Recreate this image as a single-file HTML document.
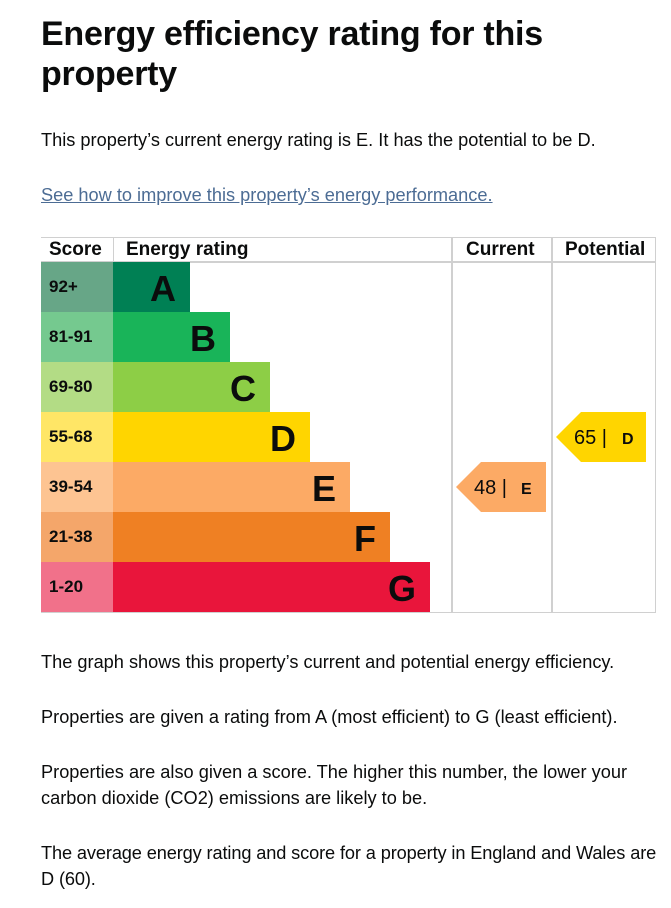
<!DOCTYPE html>
<html><head><style>
body{margin:0;width:671px;height:908px;background:#fff;font-family:"Liberation Sans",sans-serif;color:#0b0c0c;position:relative;overflow:hidden}
.a{position:absolute;white-space:nowrap}
h1{position:absolute;left:41px;top:14px;margin:0;font-size:34px;line-height:40px;font-weight:bold;letter-spacing:-0.25px;white-space:nowrap}
.p{position:absolute;left:41px;font-size:18.2px;line-height:26px;white-space:nowrap}
.r{position:absolute;height:50px}
.s{left:41px;width:72px;font-weight:bold;font-size:17px;line-height:50px;text-indent:8px}
.b{left:113px;font-weight:bold;font-size:36px;line-height:54px;text-align:right;box-sizing:border-box;padding-right:14px}
.ln{position:absolute;background:#d0d0d0}
</style></head><body>
<h1>Energy efficiency rating for this<br>property</h1>
<div class="p" style="top:127px">This property’s current energy rating is E. It has the potential to be D.</div>
<div class="p" style="top:182px;color:#4c6c94;text-decoration:underline">See how to improve this property’s energy performance.</div>

<div class="ln" style="left:41px;top:237px;width:615px;height:1px"></div>
<div class="ln" style="left:41px;top:261px;width:615px;height:2px"></div>
<div class="ln" style="left:41px;top:612px;width:615px;height:1px"></div>
<div class="ln" style="left:113px;top:237px;width:1px;height:25px"></div>
<div class="ln" style="left:451px;top:237px;width:2px;height:376px"></div>
<div class="ln" style="left:551px;top:237px;width:2px;height:376px"></div>
<div class="ln" style="left:655px;top:237px;width:1px;height:376px"></div>
<div class="a" style="left:49px;top:239px;font-weight:bold;font-size:19px">Score</div>
<div class="a" style="left:126px;top:239px;font-weight:bold;font-size:19px">Energy rating</div>
<div class="a" style="left:466px;top:239px;font-weight:bold;font-size:19px">Current</div>
<div class="a" style="left:565px;top:239px;font-weight:bold;font-size:19px">Potential</div>

<div class="r s" style="top:262px;background:#67a687">92+</div>
<div class="r b" style="top:262px;width:77px;background:#008054">A</div>
<div class="r s" style="top:312px;background:#75c98f">81-91</div>
<div class="r b" style="top:312px;width:117px;background:#19b459">B</div>
<div class="r s" style="top:362px;background:#b3dc85">69-80</div>
<div class="r b" style="top:362px;width:157px;background:#8dce46">C</div>
<div class="r s" style="top:412px;background:#ffe666">55-68</div>
<div class="r b" style="top:412px;width:197px;background:#ffd500">D</div>
<div class="r s" style="top:462px;background:#fdc492">39-54</div>
<div class="r b" style="top:462px;width:237px;background:#fcaa65">E</div>
<div class="r s" style="top:512px;background:#f4a66a">21-38</div>
<div class="r b" style="top:512px;width:277px;background:#ef8023">F</div>
<div class="r s" style="top:562px;background:#f1718a">1-20</div>
<div class="r b" style="top:562px;width:317px;background:#e9153b">G</div>

<svg class="a" style="left:456px;top:462px" width="90" height="50"><polygon points="0,25 25,0 90,0 90,50 25,50" fill="#fcaa65"/>
<text x="18" y="32" font-family="Liberation Sans" font-size="20" fill="#0b0c0c">48 |</text><text x="65" y="32" font-family="Liberation Sans" font-weight="bold" font-size="16" fill="#0b0c0c">E</text></svg>
<svg class="a" style="left:556px;top:412px" width="90" height="50"><polygon points="0,25 25,0 90,0 90,50 25,50" fill="#ffd500"/>
<text x="18" y="32" font-family="Liberation Sans" font-size="20" fill="#0b0c0c">65 |</text><text x="66" y="32" font-family="Liberation Sans" font-weight="bold" font-size="16" fill="#0b0c0c">D</text></svg>

<div class="p" style="top:649px">The graph shows this property’s current and potential energy efficiency.</div>
<div class="p" style="top:704px">Properties are given a rating from A (most efficient) to G (least efficient).</div>
<div class="p" style="top:759px">Properties are also given a score. The higher this number, the lower your<br>carbon dioxide (CO2) emissions are likely to be.</div>
<div class="p" style="top:840px;letter-spacing:-0.12px">The average energy rating and score for a property in England and Wales are<br>D (60).</div>
</body></html>
